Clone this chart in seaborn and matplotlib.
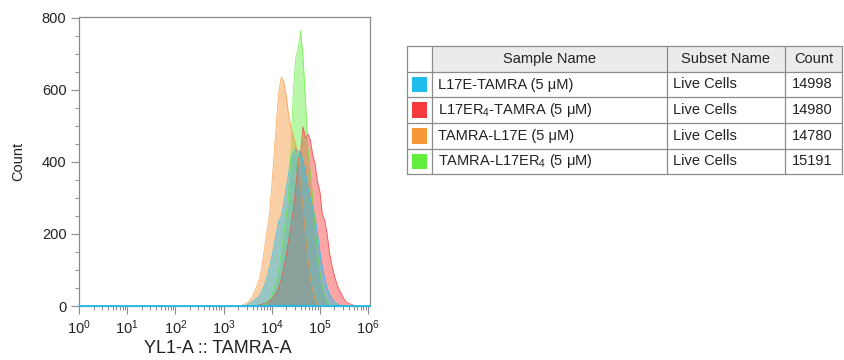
import numpy as np
import pandas as pd
import matplotlib.pyplot as plt
import matplotlib.ticker as mticker
from matplotlib.patches import Rectangle
import seaborn as sns

# log10 bin centres of the histogram (3.30 ... 5.80, step 0.05)
log_bins = np.round(np.linspace(3.30, 5.80, 51), 2)

# counts per bin
l17e_tamra = [0, 0, 0, 1, 4, 8, 12, 17, 22, 30,
              42, 58, 80, 105, 135, 168, 205, 238, 248, 285,
              325, 368, 412, 425, 438, 430, 428, 400, 372, 330,
              298, 272, 246, 200, 150, 108, 75, 50, 33, 20,
              12, 6, 3, 1, 0, 0, 0, 0, 0, 0, 0]
l17er4_tamra = [0, 0, 0, 0, 0, 0, 0, 1, 2, 3,
                5, 7, 10, 14, 19, 26, 36, 52, 75, 105,
                140, 180, 222, 268, 330, 405, 430, 498, 465, 478,
                462, 420, 395, 345, 318, 255, 238, 200, 148, 112,
                85, 62, 45, 33, 20, 11, 7, 5, 2, 0, 0]
tamra_l17e = [0, 1, 3, 6, 10, 16, 27, 42, 58, 78,
              112, 160, 205, 250, 330, 420, 515, 598, 636, 622,
              585, 530, 495, 472, 446, 405, 338, 272, 198, 132,
              80, 44, 19, 7, 2, 0, 0, 0, 0, 0,
              0, 0, 0, 0, 0, 0, 0, 0, 0, 0, 0]
tamra_l17er4 = [0, 0, 0, 0, 0, 0, 0, 0, 0, 0,
                2, 5, 10, 18, 30, 48, 72, 105, 150, 200,
                250, 300, 430, 600, 690, 715, 765, 690, 575, 440,
                370, 300, 220, 150, 95, 55, 28, 12, 4, 1,
                0, 0, 0, 0, 0, 0, 0, 0, 0, 0, 0]

sample_names = ["L17E-TAMRA (5 μM)", "L17ER$_4$-TAMRA (5 μM)",
                "TAMRA-L17E (5 μM)", "TAMRA-L17ER$_4$ (5 μM)"]
subset_names = ["Live Cells", "Live Cells", "Live Cells", "Live Cells"]
cell_counts = ["14998", "14980", "14780", "15191"]
colors = ["#1EBDEB", "#F53B3B", "#F8963A", "#62EE3C"]
series = [l17e_tamra, l17er4_tamra, tamra_l17e, tamra_l17er4]
draw_order = [3, 2, 1, 0]  # green, orange, red, cyan on top

sns.set_style("ticks")
plt.rcParams['font.family'] = ['Liberation Sans', 'DejaVu Sans']
plt.rcParams['mathtext.fontset'] = 'custom'
plt.rcParams['mathtext.rm'] = 'Liberation Sans'
plt.rcParams['mathtext.it'] = 'Liberation Sans:italic'
plt.rcParams['mathtext.bf'] = 'Liberation Sans:bold'

# long table for seaborn
rows = []
for name, vals in zip(sample_names, series):
    for b, v in zip(log_bins, vals):
        rows.append({"sample": name, "value": 10 ** b, "count": v})
df = pd.DataFrame(rows)

fig = plt.figure(figsize=(8.44, 3.6), dpi=100)
W, H = 844, 360
ax = fig.add_axes([79 / W, 1 - 306 / H, (370 - 79) / W, (306 - 16.7) / H])
ax.set_xscale('log')

for i in draw_order:
    ax.fill_between(10 ** log_bins, series[i], 0, color=colors[i], alpha=0.45,
                    linewidth=0, zorder=1 + 0.1 * draw_order.index(i))

sns.lineplot(data=df, x="value", y="count", hue="sample", hue_order=sample_names,
             palette=colors, linewidth=0.6, alpha=0.75, legend=False, ax=ax, zorder=2)
ax.axhline(0, color=colors[0], linewidth=1.3, clip_on=False, zorder=5)

ax.set_xlim(1, 10 ** 6.04)
ax.set_ylim(0, 803)
ax.yaxis.set_major_locator(mticker.MultipleLocator(200))
ax.yaxis.set_minor_locator(mticker.MultipleLocator(50))
ax.xaxis.set_major_locator(mticker.LogLocator(base=10, numticks=10))
ax.xaxis.set_minor_locator(mticker.LogLocator(base=10, subs=np.arange(2, 10), numticks=20))
ax.xaxis.set_minor_formatter(mticker.NullFormatter())

for s in ax.spines.values():
    s.set_color("#8a8a8a")
    s.set_linewidth(0.9)
ax.tick_params(which='major', length=6, width=0.8, color="#8a8a8a", labelsize=10.5,
               labelcolor="#222222", pad=3)
ax.tick_params(which='minor', length=3, width=0.7, color="#8a8a8a")
ax.set_xlabel("YL1-A :: TAMRA-A", fontsize=13, color="#222222")
ax.xaxis.set_label_coords((218 - 79) / 291, -0.118)
ax.set_ylabel("Count", fontsize=10.5, labelpad=12, color="#222222")

# table on the right
tx0, tx1, ty0, ty1 = 406.7, 841.7, 46, 174.3
tab = fig.add_axes([tx0 / W, 1 - ty1 / H, (tx1 - tx0) / W, (ty1 - ty0) / H])
tab.set_xlim(tx0, tx1)
tab.set_ylim(ty1, ty0)
tab.axis('off')
col_x = [406.7, 432.3, 666.7, 785, 841.7]
row_y = [46, 71.7, 97.3, 123, 148.7, 174.3]
line_c = "#8c8c8c"

tab.add_patch(Rectangle((col_x[1], row_y[0]), col_x[4] - col_x[1], row_y[1] - row_y[0],
                        facecolor="#ebebeb", edgecolor="none"))
for y in row_y:
    tab.plot([col_x[0], col_x[4]], [y, y], color=line_c, lw=0.9, clip_on=False)
for x in col_x:
    tab.plot([x, x], [row_y[0], row_y[-1]], color=line_c, lw=0.9, clip_on=False)

header_mid = (row_y[0] + row_y[1]) / 2
for i, htxt in enumerate(["Sample Name", "Subset Name", "Count"]):
    tab.text((col_x[i + 1] + col_x[i + 2]) / 2, header_mid, htxt, ha='center', va='center',
             fontsize=10.5, color="#222222")

for r in range(4):
    ymid = (row_y[r + 1] + row_y[r + 2]) / 2
    sw = 15.5
    tab.add_patch(Rectangle(((col_x[0] + col_x[1]) / 2 - sw / 2, ymid - sw / 2), sw, sw,
                            facecolor=colors[r], edgecolor="none"))
    tab.text(col_x[1] + 6, ymid, sample_names[r], ha='left', va='center', fontsize=10.5,
             color="#222222")
    tab.text(col_x[2] + 6, ymid, subset_names[r], ha='left', va='center', fontsize=10.5,
             color="#222222")
    tab.text(col_x[3] + 7, ymid, cell_counts[r], ha='left', va='center', fontsize=10.5,
             color="#222222")

fig.savefig("out.png", dpi=100)
